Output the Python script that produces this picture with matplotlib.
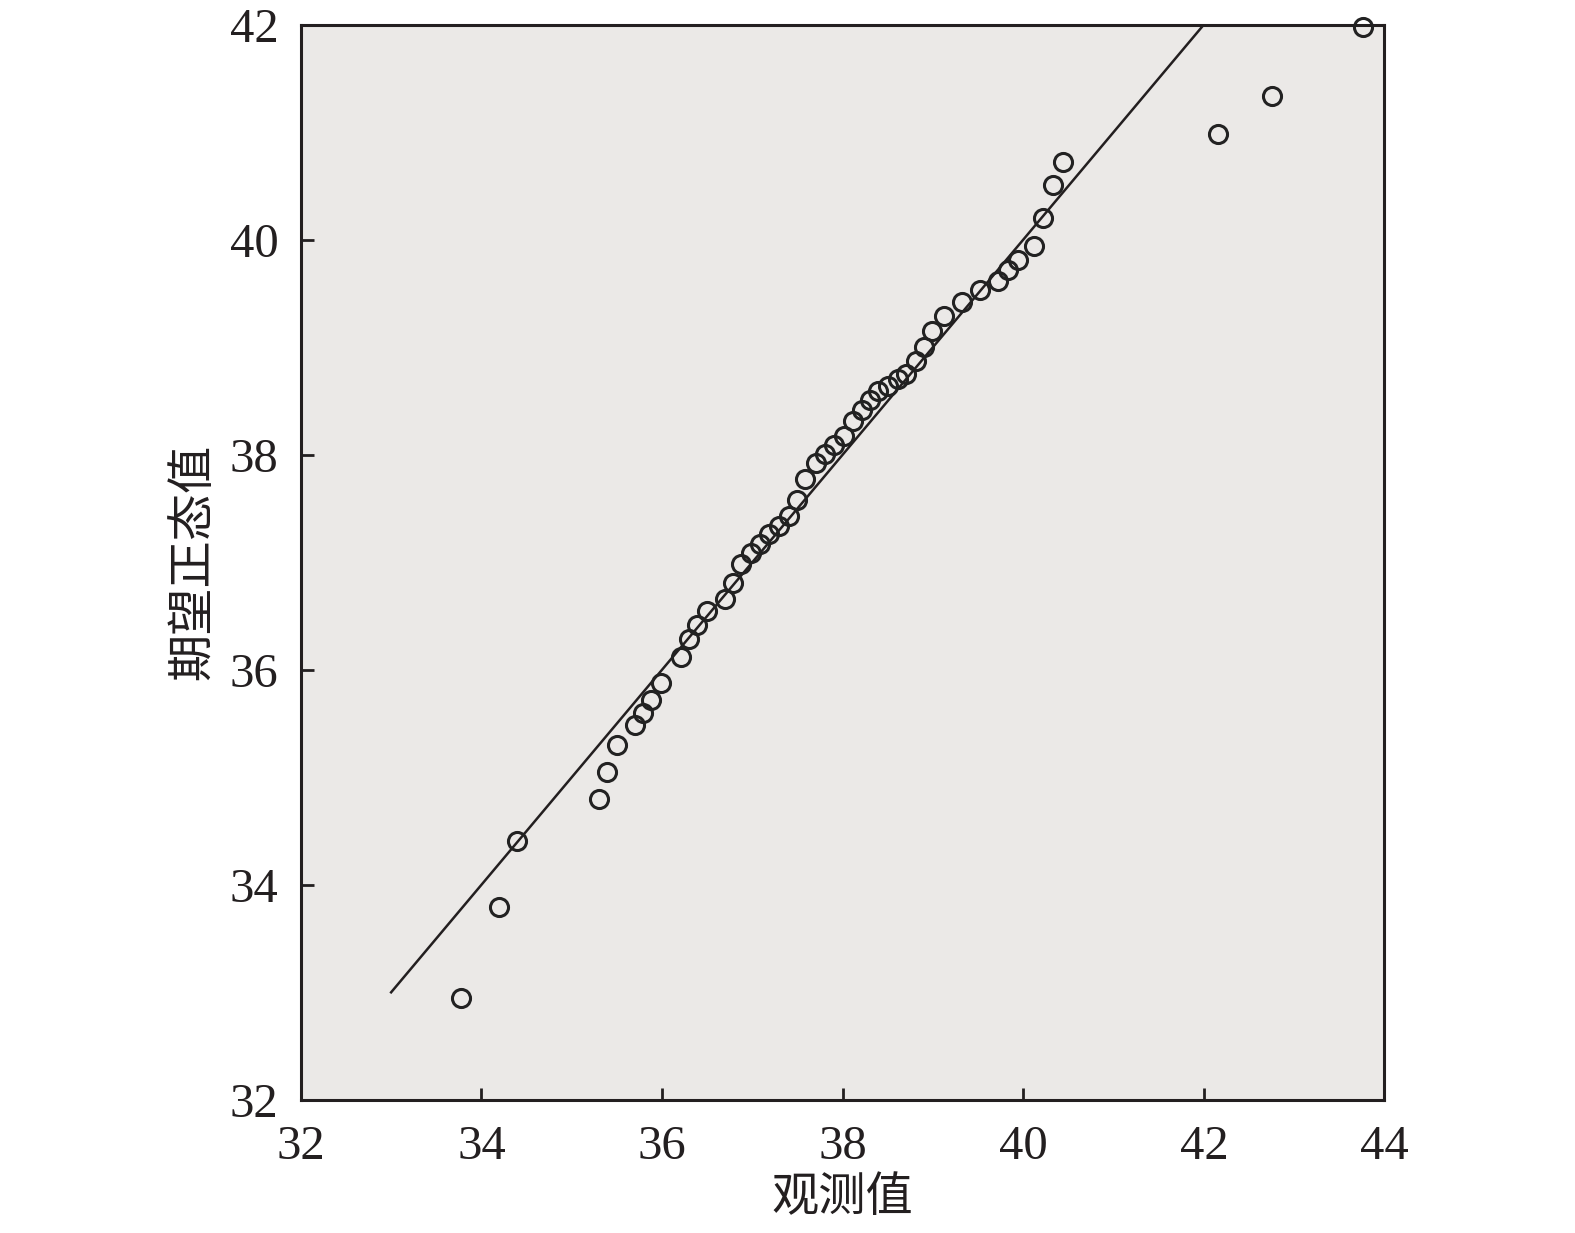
import matplotlib
matplotlib.use('Agg')
import matplotlib.pyplot as plt

# 观测值 (x) 与期望正态值 (y)
obs = [33.77, 34.19, 34.39, 35.30, 35.39, 35.50, 35.70, 35.79, 35.88, 35.99,
       36.21, 36.30, 36.39, 36.50, 36.70, 36.79, 36.88, 36.99, 37.08, 37.19,
       37.30, 37.41, 37.50, 37.58, 37.70, 37.81, 37.90, 38.01, 38.12, 38.21,
       38.30, 38.39, 38.50, 38.61, 38.70, 38.81, 38.90, 38.99, 39.12, 39.32,
       39.52, 39.72, 39.83, 39.94, 40.12, 40.22, 40.33, 40.44, 42.16, 42.76,
       43.76]
expected = [32.95, 33.79, 34.41, 34.80, 35.05, 35.30, 35.49, 35.60, 35.72, 35.88,
            36.12, 36.29, 36.42, 36.55, 36.66, 36.81, 36.98, 37.09, 37.17, 37.26,
            37.34, 37.43, 37.58, 37.77, 37.92, 38.01, 38.09, 38.17, 38.31, 38.42,
            38.51, 38.59, 38.64, 38.70, 38.75, 38.87, 39.00, 39.15, 39.29, 39.42,
            39.53, 39.62, 39.72, 39.81, 39.94, 40.20, 40.51, 40.72, 40.98, 41.34,
            41.98]
line_x = [33, 42]
ticks_x = [32, 34, 36, 38, 40, 42, 44]
ticks_y = [32, 34, 36, 38, 40, 42]

serif = ['Liberation Serif', 'Noto Sans CJK SC']
dark = '#231f20'

fig = plt.figure(figsize=(15.75, 12.33), dpi=100)
ax = fig.add_axes([0.191, 0.108, 0.688, 0.872])
ax.set_facecolor('#ebe9e7')

ax.plot(line_x, line_x, color=dark, lw=1.8, zorder=2)
ax.plot(obs, expected, 'o', mfc='none', mec='#222222', ms=13, mew=2.2,
        clip_on=False, zorder=3)

ax.set_xlim(32, 44)
ax.set_ylim(32, 42)
ax.set_xticks(ticks_x)
ax.set_yticks(ticks_y)
ax.set_xticklabels([str(t) for t in ticks_x], fontfamily=serif, fontsize=35, color=dark)
ax.set_yticklabels([str(t) for t in ticks_y], fontfamily=serif, fontsize=35, color=dark)
ax.tick_params(direction='in', length=9, width=2, color=dark)
ax.tick_params(axis='x', pad=18)
ax.tick_params(axis='y', pad=16)
for s in ax.spines.values():
    s.set_linewidth(2.2)
    s.set_color(dark)

ax.set_xlabel('观测值', fontfamily=serif, fontsize=34, color=dark, labelpad=6)
ax.set_ylabel('期望正态值', fontfamily=serif, fontsize=34, color=dark, labelpad=10)

fig.savefig('out.png', dpi=100)
